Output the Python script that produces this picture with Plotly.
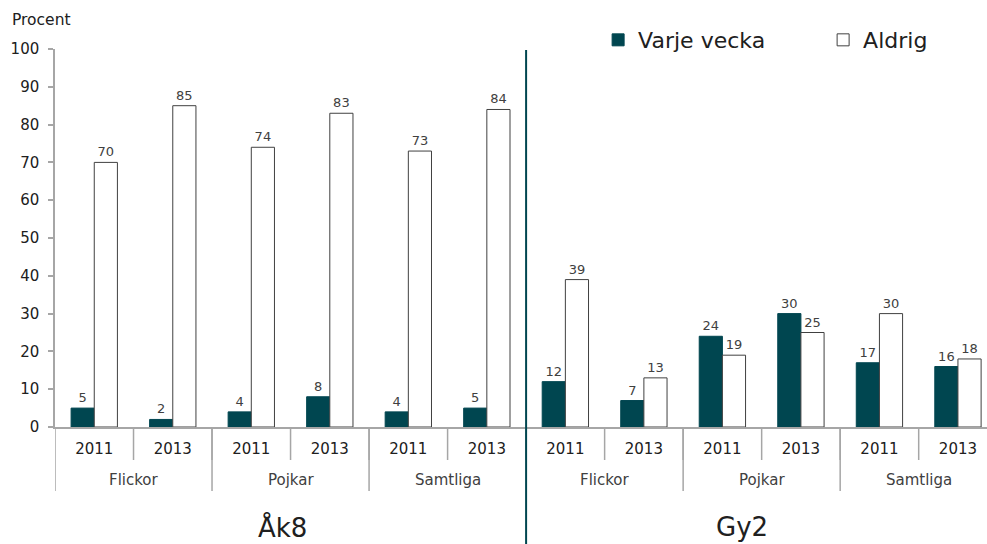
import plotly.graph_objects as go

schools = ["Åk8", "Gy2"]
genders = ["Flickor", "Pojkar", "Samtliga"]
years = ["2011", "2013"]

varje_vecka = [5, 2, 4, 8, 4, 5, 12, 7, 24, 30, 17, 16]
aldrig = [70, 85, 74, 83, 73, 84, 39, 13, 19, 25, 30, 18]

categories = [f"{s} {g} {y}" for s in schools for g in genders for y in years]
year_labels = [y for s in schools for g in genders for y in years]

TEAL = "#004650"
GRAY = "#a6a6a6"
FONT = "DejaVu Sans, Verdana, sans-serif"

fig = go.Figure()
fig.add_trace(go.Bar(
    x=categories, y=varje_vecka, name="Varje vecka",
    marker=dict(color=TEAL, line=dict(color=TEAL, width=1)),
    text=[str(v) for v in varje_vecka], textposition="outside",
    textfont=dict(size=13, color="#404040", family=FONT), cliponaxis=False,
))
fig.add_trace(go.Bar(
    x=categories, y=aldrig, name="Aldrig",
    marker=dict(color="white", line=dict(color="#404040", width=1)),
    text=[str(v) for v in aldrig], textposition="outside",
    textfont=dict(size=13, color="#404040", family=FONT), cliponaxis=False,
))

W, H = 987, 544
plot_left = 55
plot_top, plot_bottom = 49, 427
ph = plot_bottom - plot_top

def py(pix):
    return (plot_bottom - pix) / ph

shapes = []
n = len(categories)
for i in range(n):
    shapes.append(dict(type="line", xref="x", yref="paper", x0=i + 0.5, x1=i + 0.5,
                       y0=0, y1=py(460), line=dict(color=GRAY, width=1.5)))
for b in [-0.5, 1.5, 3.5, 7.5, 9.5]:
    shapes.append(dict(type="line", xref="x", yref="paper", x0=b, x1=b,
                       y0=0, y1=py(491), line=dict(color=GRAY, width=1.5)))
shapes.append(dict(type="line", xref="x", yref="paper", x0=5.5, x1=5.5,
                   y0=py(546), y1=py(50), line=dict(color=TEAL, width=2)))

annotations = []
for si, s in enumerate(schools):
    for gi, g in enumerate(genders):
        xc = si * 6 + gi * 2 + 0.5
        annotations.append(dict(text=g, x=xc, xref="x", y=py(480), yref="paper",
                                showarrow=False, font=dict(size=15, color="#404040", family=FONT),
                                yanchor="middle"))
annotations.append(dict(text="Åk8", x=2.4, xref="x", y=py(527), yref="paper",
                        showarrow=False, font=dict(size=26, color="#202020", family=FONT), yanchor="middle"))
annotations.append(dict(text="Gy2", x=8.25, xref="x", y=py(527), yref="paper",
                        showarrow=False, font=dict(size=26, color="#202020", family=FONT), yanchor="middle"))
annotations.append(dict(text="Procent", x=(10 - plot_left) / (W - plot_left), xref="paper", xanchor="left",
                        y=py(20), yref="paper", showarrow=False,
                        font=dict(size=15.5, color="#202020", family=FONT), yanchor="middle"))

fig.update_layout(
    width=W, height=H,
    margin=dict(l=plot_left, r=0, t=plot_top, b=H - plot_bottom, pad=0, autoexpand=False),
    paper_bgcolor="white", plot_bgcolor="white",
    barmode="group", bargap=0.41, bargroupgap=0,
    font=dict(family=FONT, color="#202020"),
    showlegend=True,
    legend=dict(orientation="h", xref="container", yref="container", x=0.606, y=0.965,
                xanchor="left", yanchor="top", font=dict(size=22, color="#202020", family=FONT),
                entrywidth=180, bgcolor="rgba(0,0,0,0)"),
    shapes=shapes, annotations=annotations,
)
fig.update_xaxes(
    type="category", categoryorder="array", categoryarray=categories,
    tickmode="array", tickvals=categories, ticktext=year_labels,
    range=[-0.5, 11.37], showgrid=False, ticks="",
    showline=True, linecolor=GRAY, linewidth=1.5,
    tickfont=dict(size=15, color="#202020", family=FONT), ticklabelstandoff=7,
)
fig.update_yaxes(
    range=[0, 100], dtick=10, showgrid=False, zeroline=False,
    showline=True, linecolor=GRAY, linewidth=1.5,
    ticks="outside", ticklen=5, tickcolor=GRAY, tickwidth=1.5,
    tickfont=dict(size=15, color="#202020", family=FONT), ticklabelstandoff=6,
)
fig.write_html("out.html", config={"displayModeBar": False},
               post_script="document.body.style.margin='0';document.body.style.overflow='hidden';")
